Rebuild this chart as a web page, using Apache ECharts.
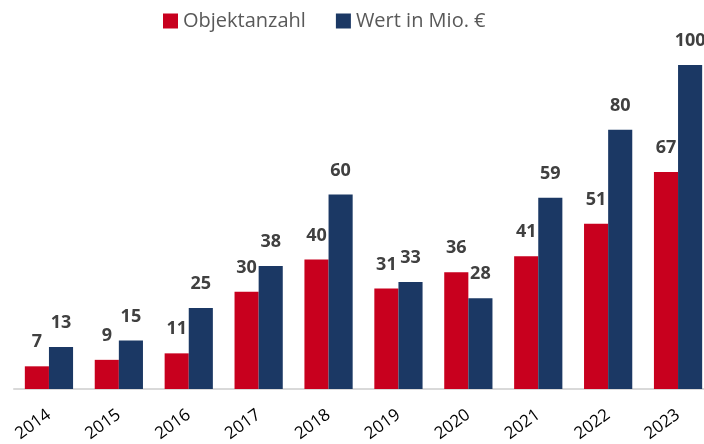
<!DOCTYPE html>
<html>
<head>
<meta charset="utf-8">
<script src="https://cdn.jsdelivr.net/npm/echarts@6/dist/echarts.min.js"></script>
<style>
  html, body { margin: 0; padding: 0; background: #fff; }
  #chart { width: 704px; height: 444px; }
</style>
</head>
<body>
<div id="chart"></div>
<script>
const years = ['2014', '2015', '2016', '2017', '2018', '2019', '2020', '2021', '2022', '2023'];
const objektanzahl = [7, 9, 11, 30, 40, 31, 36, 41, 51, 67];
const wert = [13, 15, 25, 38, 60, 33, 28, 59, 80, 100];

let myChart = echarts.init(document.getElementById('chart'));

let labelStyle = {
  show: true,
  position: 'top',
  distance: 15,
  color: '#404040',
  fontWeight: 'bold',
  fontSize: 18,
  fontFamily: 'Open Sans'
};

let option = {
  animation: false,
  legend: {
    top: 6,
    left: 158,
    itemWidth: 15,
    itemHeight: 15,
    itemGap: 30,
    icon: 'rect',
    textStyle: { color: '#595959', fontSize: 20, fontFamily: 'Open Sans' },
    data: ['Objektanzahl', 'Wert in Mio. €']
  },
  grid: {
    left: 14,
    top: 65,
    width: 699,
    bottom: 55,
    outerBoundsMode: 'none'
  },
  xAxis: {
    type: 'category',
    data: years,
    axisLine: { lineStyle: { color: '#d9d9d9', width: 2 } },
    axisTick: { show: false },
    axisLabel: {
      rotate: 36,
      margin: 24,
      color: '#000',
      fontSize: 17,
      fontFamily: 'Open Sans'
    }
  },
  yAxis: {
    type: 'value',
    min: 0,
    max: 100,
    show: false,
    splitLine: { show: false }
  },
  series: [
    {
      name: 'Objektanzahl',
      type: 'bar',
      barGap: '0%',
      barCategoryGap: '31%',
      itemStyle: { color: '#c8001e' },
      label: labelStyle,
      data: objektanzahl
    },
    {
      name: 'Wert in Mio. €',
      type: 'bar',
      itemStyle: { color: '#1b3864' },
      label: labelStyle,
      data: wert
    }
  ]
};

option && myChart.setOption(option);
</script>
</body>
</html>
